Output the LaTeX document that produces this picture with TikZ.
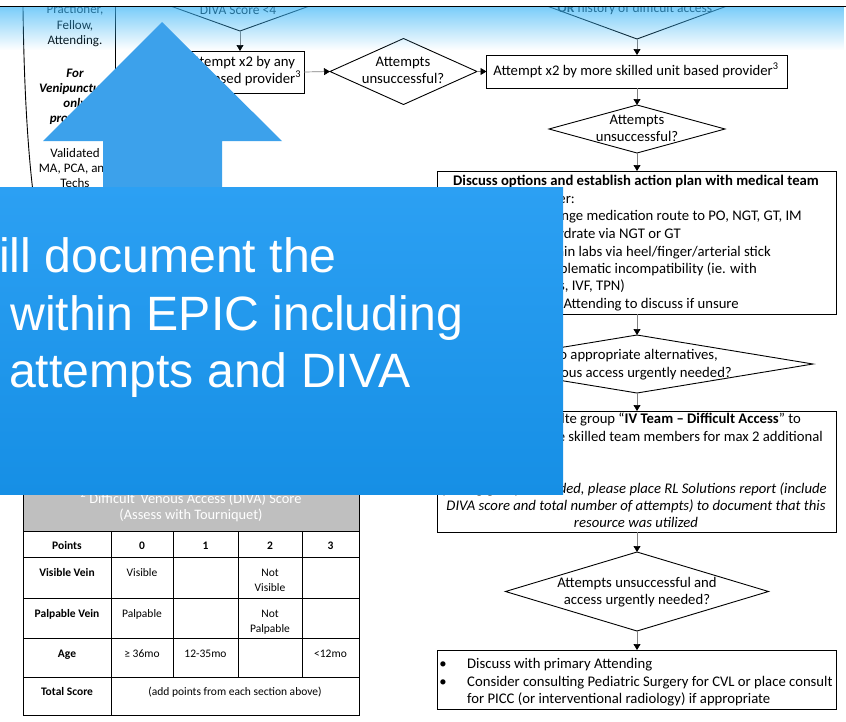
\documentclass[tikz,border=0pt]{standalone}
\usepackage{fontspec}
\setmainfont{Carlito}
\newfontfamily\slidefont{Liberation Sans}
\usetikzlibrary{arrows.meta,shapes.geometric,fadings}

\definecolor{slideblue}{RGB}{60,161,235}
\definecolor{boxtop}{RGB}{44,160,243}
\definecolor{boxbot}{RGB}{22,143,229}
\definecolor{haze}{RGB}{60,182,247}
\definecolor{hdrgray}{RGB}{191,191,191}
\definecolor{connector}{RGB}{128,128,128}

\tikzfading[name=hazefade, top color=transparent!32, bottom color=transparent!100]

\begin{document}
\begin{tikzpicture}[x=1pt,y=-1pt,
  box/.style={draw=black, line width=0.9pt, rectangle, inner sep=0pt, outer sep=0pt},
  dia/.style={draw=black, line width=0.9pt, diamond, inner sep=0pt, outer sep=0pt},
  conn/.style={draw=connector, line width=0.7pt, -{Triangle[color=black,width=7pt,length=6pt]}},
  lane/.style={inner sep=0pt, anchor=base, font=\fontsize{13}{16}\selectfont},
  lbl/.style={inner sep=0pt, font=\fontsize{14.7}{17}\selectfont},
  tlbl/.style={inner sep=0pt, anchor=base, font=\fontsize{11.5}{14}\selectfont},
  big/.style={inner sep=0pt, anchor=base west, text=white, font=\slidefont\fontsize{48.2}{57}\selectfont}
]
\useasboundingbox (0,0) rectangle (846,721);
\fill[white] (0,0) rectangle (846,721);

% ---------- left lane ----------
\draw[line width=0.9pt] (23,7) .. controls (24,90) and (28,150) .. (33,192);
\draw[line width=0.9pt] (115,7) -- (115,192);
\node[lane] (l1) at (75,13) {Practioner,};
\node[lane] (l2) at (75,29) {Fellow,};
\node[lane] (l3) at (75,44) {Attending.};
\node[lane, font=\fontsize{13}{16}\selectfont\bfseries\itshape] (l4) at (75,77) {For};
\node[lane, font=\fontsize{13}{16}\selectfont\bfseries\itshape] (l5) at (75,92) {Venipuncture};
\node[lane, font=\fontsize{13}{16}\selectfont\bfseries\itshape] (l6) at (75,107) {only};
\node[lane, font=\fontsize{13}{16}\selectfont\bfseries\itshape] (l7) at (75,122) {providers};
\node[lane] (l8) at (75,157) {Validated};
\node[lane] (l9) at (75,172) {MA, PCA, and};
\node[lane] (l10) at (75,187) {Techs};

% ---------- flow shapes ----------
\node[dia, minimum width=228pt, minimum height=82pt] (d0) at (240,-10) {};
\node[box, minimum width=128pt, minimum height=42pt] (b1) at (240,72) {};
\node[dia, minimum width=147pt, minimum height=66pt] (d1) at (403.5,71.5) {};
\node[dia, minimum width=240pt, minimum height=88pt] (dR) at (637,-5) {};
\node[box, minimum width=301pt, minimum height=33pt] (b2) at (637,71.5) {};
\node[dia, minimum width=176pt, minimum height=48pt] (d2) at (637,129) {};
\node[box, minimum width=399pt, minimum height=143pt] (b3) at (637,242.5) {};
\node[dia, minimum width=352pt, minimum height=58pt] (d3) at (637,364) {};
\node[box, minimum width=399pt, minimum height=121pt] (b4) at (637,471.5) {};
\node[dia, minimum width=263pt, minimum height=79pt] (d4) at (637,591.5) {};
\node[box, minimum width=399pt, minimum height=59pt] (b5) at (637,679.5) {};

% ---------- connectors ----------
\draw[conn] (d0.south) -- (b1.north);
\draw[conn] (b1.east) -- (d1.west);
\draw[conn] (d1.east) -- (b2.west);
\draw[conn] (dR.south) -- (b2.north);
\draw[conn] (b2.south) -- (d2.north);
\draw[conn] (d2.south) -- (b3.north);
\draw[conn] (b3.south) -- (d3.north);
\draw[conn] (d3.south) -- (b4.north);
\draw[conn] (b4.south) -- (d4.north);
\draw[conn] (d4.south) -- (b5.north);

% ---------- flow texts ----------
\node[lbl, anchor=base, font=\fontsize{13.5}{16}\selectfont] (t0) at (238,14) {DIVA Score <4};
\node[lbl, anchor=base, font=\fontsize{13.5}{16}\selectfont] (tR) at (635,12) {\textbf{OR} history of difficult access};
\node[lbl, anchor=base] (t1a) at (241,66) {Attempt x2 by any};
\node[lbl, anchor=base] (t1b) at (240,83) {unit based provider\textsuperscript{3}};
\node[lbl, anchor=base] (t2a) at (403,66) {Attempts};
\node[lbl, anchor=base] (t2b) at (403,83) {unsuccessful?};
\node[lbl, anchor=base] (t3) at (636,75) {Attempt x2 by more skilled unit based provider\textsuperscript{3}};
\node[lbl, anchor=base] (t4a) at (637,124) {Attempts};
\node[lbl, anchor=base] (t4b) at (637,141) {unsuccessful?};

\node[lbl, anchor=base, font=\fontsize{14.7}{17}\selectfont\bfseries] (t5) at (636,185) {Discuss options and establish action plan with medical team};
\node[lbl, anchor=base east] (t5a) at (575,203) {er:};
\node[lbl, anchor=base east] (t5b) at (802,220) {nge medication route to PO, NGT, GT, IM};
\node[lbl, anchor=base east] (t5c) at (681,238) {ydrate via NGT or GT};
\node[lbl, anchor=base east] (t5d) at (771,256) {ain labs via heel/finger/arterial stick};
\node[lbl, anchor=base east] (t5e) at (757,273) {blematic incompatibility (ie. with};
\node[lbl, anchor=base east] (t5f) at (625,290) {s, IVF, TPN)};
\node[lbl, anchor=base east] (t5g) at (739,308) {Attending to discuss if unsure};

\node[lbl, anchor=base east] (t6a) at (718,359) {o appropriate alternatives,};
\node[lbl, anchor=base east] (t6b) at (732,377) {ous access urgently needed?};

\node[lbl, anchor=base east] (t7a) at (801,423) {lte group “\textbf{IV Team – Difficult Access}” to};
\node[lbl, anchor=base east] (t7b) at (823,441) {e skilled team members for max 2 additional};
\node[lbl, anchor=base east, font=\fontsize{14.7}{17}\selectfont\itshape] (t7c) at (827,493) {By using group if needed, please place RL Solutions report (include};
\node[lbl, anchor=base, font=\fontsize{14.7}{17}\selectfont\itshape] (t7d) at (636,510) {DIVA score and total number of attempts) to document that this};
\node[lbl, anchor=base, font=\fontsize{14.7}{17}\selectfont\itshape] (t7e) at (636,527) {resource was utilized};

\node[lbl, anchor=base] (t8a) at (637,587) {Attempts unsuccessful and};
\node[lbl, anchor=base] (t8b) at (637,604) {access urgently needed?};

\node[lbl, anchor=base] (t9a) at (443,668) {•};
\node[lbl, anchor=base west] (t9b) at (467,668) {Discuss with primary Attending};
\node[lbl, anchor=base] (t9c) at (443,686) {•};
\node[lbl, anchor=base west] (t9d) at (467,686) {Consider consulting Pediatric Surgery for CVL or place consult};
\node[lbl, anchor=base west] (t9e) at (467,703) {for PICC (or interventional radiology) if appropriate};

% ---------- DIVA score table ----------
\fill[hdrgray] (23,470) rectangle (359,531);
\begin{scope}[line width=0.9pt]
  \draw (23,470) -- (23,715) -- (359,715) -- (359,470);
  \foreach \yy in {531,557,598,638,677} \draw (23,\yy) -- (359,\yy);
  \draw (111,531) -- (111,715);
  \foreach \xx in {173,238,302} \draw (\xx,531) -- (\xx,677);
\end{scope}
\node[tlbl, text=white, font=\fontsize{14.4}{16}\selectfont] (h1) at (191,503) {\textsuperscript{2} Difficult\, Venous Access (DIVA) Score};
\node[tlbl, text=white, font=\fontsize{14.4}{16}\selectfont] (h2) at (191,519) {(Assess with Tourniquet)};
\node[tlbl, font=\fontsize{11.5}{14}\selectfont\bfseries] (c00) at (67,549) {Points};
\node[tlbl, font=\fontsize{11.5}{14}\selectfont\bfseries] (c01) at (142,549) {0};
\node[tlbl, font=\fontsize{11.5}{14}\selectfont\bfseries] (c02) at (205.5,549) {1};
\node[tlbl, font=\fontsize{11.5}{14}\selectfont\bfseries] (c03) at (270,549) {2};
\node[tlbl, font=\fontsize{11.5}{14}\selectfont\bfseries] (c04) at (330.5,549) {3};
\node[tlbl, font=\fontsize{11.5}{14}\selectfont\bfseries] (c10) at (67,576) {Visible Vein};
\node[tlbl] (c11) at (142,576) {Visible};
\node[tlbl] (c13a) at (270,576) {Not};
\node[tlbl] (c13b) at (270,591) {Visible};
\node[tlbl, font=\fontsize{11.5}{14}\selectfont\bfseries] (c20) at (67,617) {Palpable Vein};
\node[tlbl] (c21) at (142,617) {Palpable};
\node[tlbl] (c23a) at (270,617) {Not};
\node[tlbl] (c23b) at (270,632) {Palpable};
\node[tlbl, font=\fontsize{11.5}{14}\selectfont\bfseries] (c30) at (67,657) {Age};
\node[tlbl] (c31) at (142,657) {≥ 36mo};
\node[tlbl] (c32) at (205.5,657) {12-35mo};
\node[tlbl] (c34) at (330.5,657) {<12mo};
\node[tlbl, font=\fontsize{11.5}{14}\selectfont\bfseries] (c40) at (67,695) {Total Score};
\node[tlbl] (c41) at (235,695) {(add points from each section above)};

% ---------- top haze and header rule ----------
\fill[haze, path fading=hazefade] (0,7) rectangle (846,50);
\fill[white] (0,0) rectangle (846,6);
\draw[line width=1pt] (0,6.5) -- (846,6.5);

% ---------- overlay: up arrow and caption panel ----------
\fill[slideblue] (162,22) -- (282,141) -- (222,141) -- (222,188) -- (103,188) -- (103,141) -- (43,141) -- cycle;
\shade[top color=boxtop, bottom color=boxbot] (0,187) rectangle (563,494);
\node[big] (cap1) at (-1,272) {ill document the};
\node[big] (cap2) at (10,330) {within EPIC including};
\node[big] (cap3) at (9,387) {attempts and DIVA};
\end{tikzpicture}
\end{document}
